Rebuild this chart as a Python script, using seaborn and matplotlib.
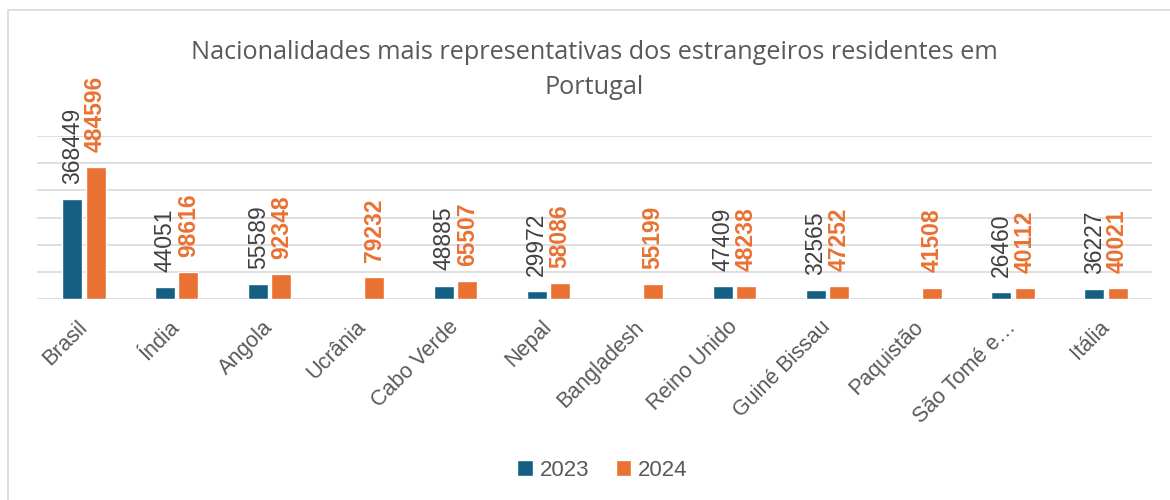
import pandas as pd
import numpy as np
import matplotlib
matplotlib.use("Agg")
import matplotlib.pyplot as plt
import seaborn as sns
from matplotlib.patches import Rectangle

paises = ["Brasil", "Índia", "Angola", "Ucrânia", "Cabo Verde", "Nepal", "Bangladesh",
          "Reino Unido", "Guiné Bissau", "Paquistão", "São Tomé e…", "Itália"]
v2023 = [368449, 44051, 55589, np.nan, 48885, 29972, np.nan, 47409, 32565, np.nan, 26460, 36227]
v2024 = [484596, 98616, 92348, 79232, 65507, 58086, 55199, 48238, 47252, 41508, 40112, 40021]

df = pd.DataFrame({"pais": paises * 2,
                   "ano": ["2023"] * len(paises) + ["2024"] * len(paises),
                   "valor": v2023 + v2024})

sns.set_theme(style="white")
plt.rcParams['font.family'] = ['Liberation Sans', 'DejaVu Sans']

azul = "#156082"
laranja = "#E97132"
cinza = "#595959"

fig = plt.figure(figsize=(11.7, 5.0), dpi=100)
ax = fig.add_axes([0.032, 0.402, 0.953, 0.326])

sns.barplot(data=df, x="pais", y="valor", hue="ano", order=paises,
            palette=[azul, laranja], saturation=1, width=0.5, gap=0.14, ax=ax, legend=True)

ax.set_ylim(0, 600000)
ax.set_xlim(-0.5, len(paises) - 0.5)
ax.set_yticks(range(0, 600001, 100000))
ax.yaxis.grid(True, color="#d9d9d9", lw=1.2)
ax.set_axisbelow(True)
ax.tick_params(axis="y", left=False, labelleft=False)
ax.tick_params(axis="x", bottom=False, pad=12)
for s in ax.spines.values():
    s.set_visible(False)
ax.set_xlabel("")
ax.set_ylabel("")
ax.set_xticks(range(len(paises)))
ax.set_xticklabels(paises, rotation=45, ha="right", va="center", rotation_mode="anchor",
                   fontsize=15.5, color=cinza)

# rótulos de dados
ax.bar_label(ax.containers[0], fmt="{:.0f}", rotation=90, padding=11,
             fontsize=16.5, color="#404040", clip_on=False)
ax.bar_label(ax.containers[1], fmt="{:.0f}", rotation=90, padding=11,
             fontsize=16.5, color=laranja, fontweight="bold", clip_on=False)

fig.text(0.508, 0.86, "Nacionalidades mais representativas dos estrangeiros residentes em\nPortugal",
         ha="center", va="center", fontsize=18.2, color=cinza, linespacing=1.55,
         family=["Open Sans", "DejaVu Sans"])

h, l = ax.get_legend_handles_labels()
ax.legend_.remove()
fig.legend(h, l, loc="center", bbox_to_anchor=(0.515, 0.06), ncol=2, frameon=False,
           fontsize=16, labelcolor=cinza, handlelength=0.7, handleheight=0.7,
           handletextpad=0.3, columnspacing=1.2)

fig.patches.append(Rectangle((0.007, -0.01), 1.2, 0.99, transform=fig.transFigure,
                             fill=False, edgecolor="#d9d9d9", lw=1.2))

fig.savefig("out.png", dpi=100)
